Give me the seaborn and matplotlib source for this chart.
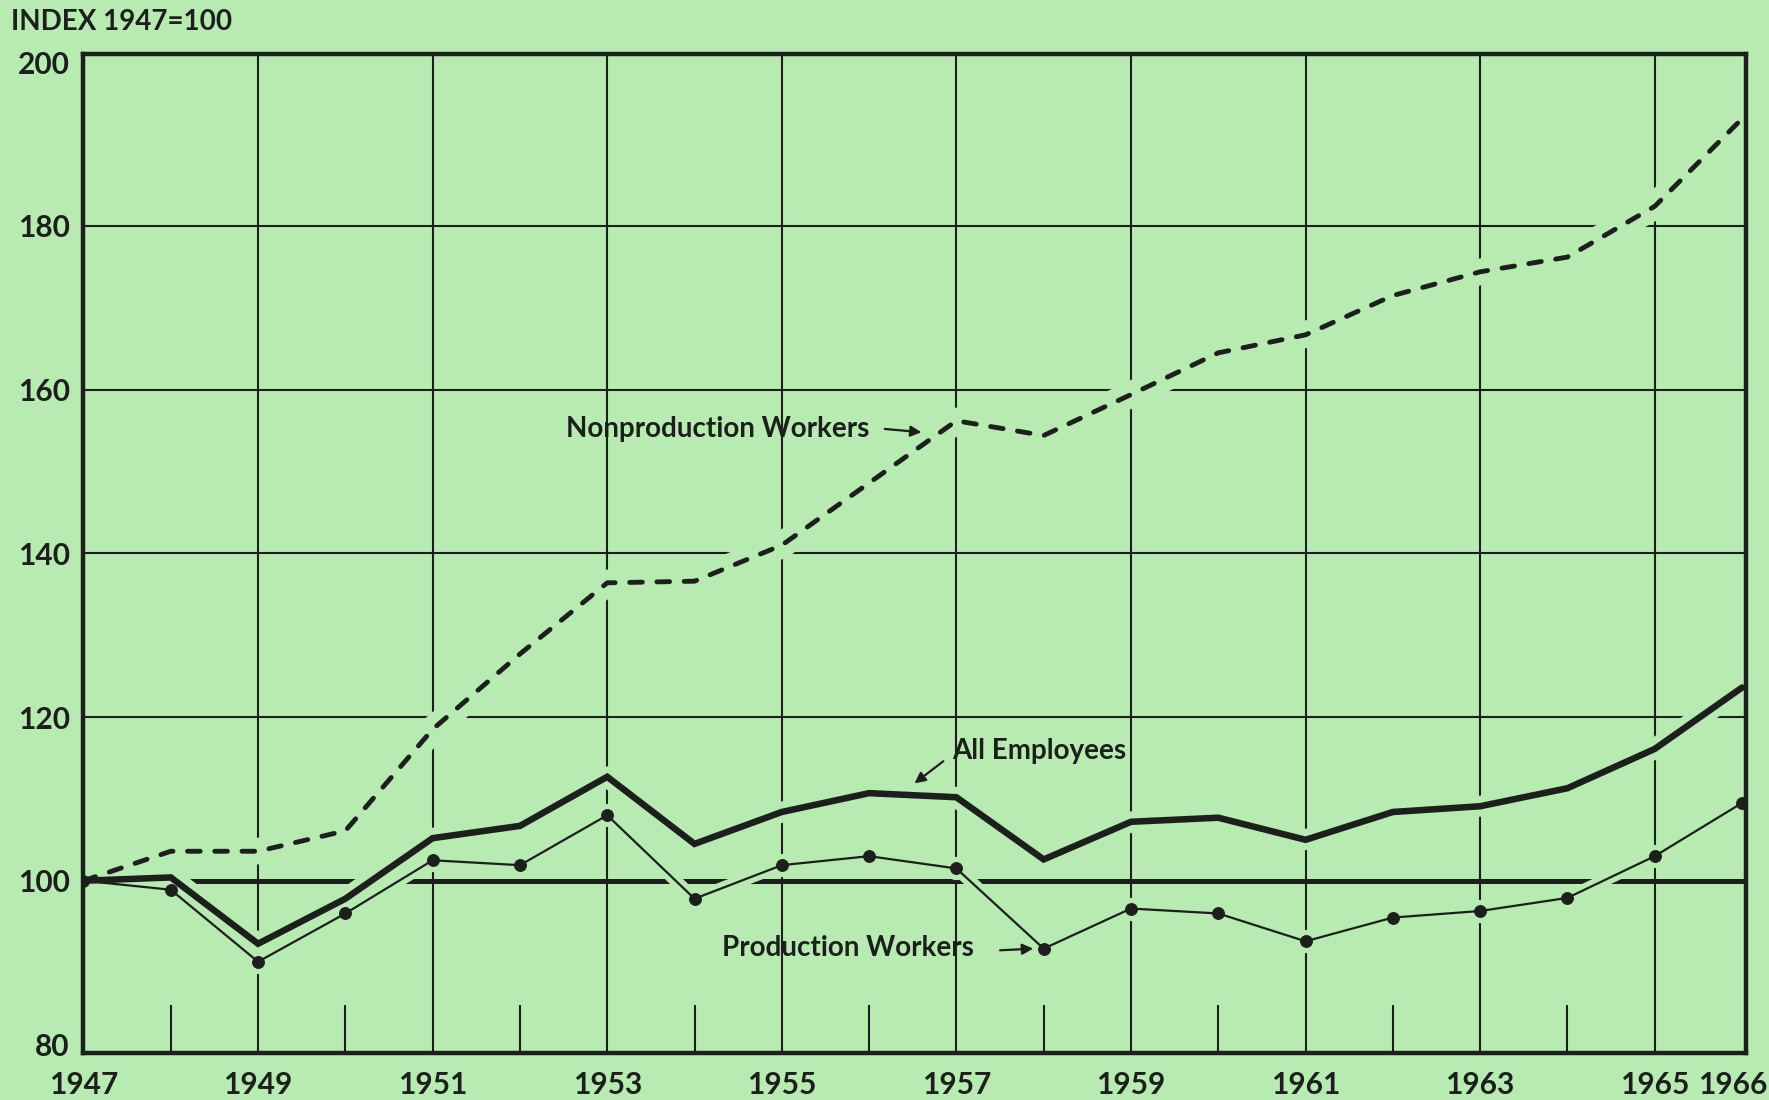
import matplotlib
matplotlib.use("Agg")
import matplotlib.pyplot as plt
import seaborn as sns
import pandas as pd
from matplotlib.transforms import ScaledTranslation

# ---------------- data ----------------
years = list(range(1947, 1967))
all_employees = [100.0, 100.4, 92.3, 97.8, 105.2, 106.7, 112.7, 104.5, 108.4, 110.7,
                 110.2, 102.6, 107.2, 107.7, 105.0, 108.4, 109.1, 111.3, 116.1, 123.6]
production_workers = [100.0, 98.9, 90.1, 96.0, 102.5, 101.9, 108.0, 97.8, 101.9, 103.0,
                      101.5, 91.7, 96.6, 96.0, 92.6, 95.5, 96.3, 97.9, 103.0, 109.5]
nonproduction_workers = [100.0, 103.6, 103.6, 106.1, 118.5, 127.7, 136.4, 136.6, 141.0, 148.6,
                         156.2, 154.4, 159.4, 164.5, 166.7, 171.5, 174.4, 176.2, 182.4, 193.1]

y_ticks = [80, 100, 120, 140, 160, 180, 200]
y_grid = [120, 140, 160, 180]
x_tick_years = [1947, 1949, 1951, 1953, 1955, 1957, 1959, 1961, 1963, 1965, 1966]
x_grid_years = [1949, 1951, 1953, 1955, 1957, 1959, 1961, 1963, 1965]
x_minor_years = [1948, 1950, 1952, 1954, 1956, 1958, 1960, 1962, 1964]

labels = {
    "non": "Nonproduction Workers",
    "all": "All Employees",
    "prod": "Production Workers",
}

BG = "#b7ebb2"
INK = "#1d1f1c"

sns.set_theme(style="white")
plt.rcParams["font.family"] = ["Lato", "DejaVu Sans"]

fig = plt.figure(figsize=(17.69, 11), dpi=100, facecolor=BG)
ax = fig.add_axes([0.0472, 0.0431, 0.9400, 0.9077])
ax.set_facecolor(BG)
ax.set_xlim(1947, 1966.05)
ax.set_ylim(79, 201)

# grid
for yr in x_grid_years:
    ax.axvline(yr, color=INK, lw=1.5, zorder=1)
for v in y_grid:
    ax.axhline(v, color=INK, lw=1.5, zorder=1)
ax.axhline(100, color=INK, lw=3.6, zorder=1)
ax.vlines(x_minor_years, 79, 84.8, color=INK, lw=1.5, zorder=1)

df = pd.DataFrame({"year": years, "all": all_employees,
                   "prod": production_workers, "non": nonproduction_workers})

# halos (gaps in the grid where the curves pass)
sns.lineplot(data=df, x="year", y="non", ax=ax, color=BG, linewidth=19, zorder=2,
             solid_capstyle="butt")
sns.lineplot(data=df, x="year", y="all", ax=ax, color=BG, linewidth=15, zorder=2,
             solid_capstyle="butt")
sns.lineplot(data=df, x="year", y="prod", ax=ax, color=BG, linewidth=9, zorder=2,
             marker="o", markersize=16, markeredgecolor=BG, markerfacecolor=BG)

# data lines
sns.lineplot(data=df, x="year", y="non", ax=ax, color=INK, linewidth=3.5, zorder=3,
             linestyle=(0, (2.6, 3.0)), dash_capstyle="round")
sns.lineplot(data=df, x="year", y="all", ax=ax, color=INK, linewidth=4.7, zorder=3,
             solid_joinstyle="miter")
sns.lineplot(data=df, x="year", y="prod", ax=ax, color=INK, linewidth=1.6, zorder=3,
             marker="o", markersize=8.5, markeredgecolor=INK, markerfacecolor=INK)

# spines
for s in ax.spines.values():
    s.set_visible(True)
    s.set_color(INK)
    s.set_linewidth(3.2)
    s.set_zorder(5)

ax.set_xticks(x_tick_years)
ax.set_xticklabels([str(y) for y in x_tick_years])
ax.set_yticks(y_ticks)
ax.set_yticklabels([str(v) for v in y_ticks])
ax.tick_params(axis="both", length=0, labelsize=21.5, colors=INK)
ax.tick_params(axis="x", pad=13)
ax.tick_params(axis="y", pad=10)
for lab in ax.get_xticklabels() + ax.get_yticklabels():
    lab.set_fontweight("bold")
last = ax.get_xticklabels()[-1]
last.set_transform(last.get_transform() + ScaledTranslation(-9 / 100, 0, fig.dpi_scale_trans))
ax.set_xlabel("")
ax.set_ylabel("")
ax.grid(False)

# annotations
tfont = dict(fontsize=20, color=INK, fontweight="bold", va="center", ha="left")
arrow = dict(arrowstyle="-|>", color=INK, lw=1.6, mutation_scale=16, shrinkA=0, shrinkB=0)
ax.text(1952.53, 155.2, labels["non"], **tfont, zorder=6)
ax.annotate("", xy=(1956.6, 154.8), xytext=(1956.18, 155.2), arrowprops=arrow, zorder=6)
ax.text(1956.95, 115.9, labels["all"], **tfont, zorder=6)
ax.annotate("", xy=(1956.52, 111.9), xytext=(1956.85, 114.6), arrowprops=arrow, zorder=6)
ax.text(1954.31, 91.8, labels["prod"], **tfont, zorder=6)
ax.annotate("", xy=(1957.88, 91.7), xytext=(1957.5, 91.5), arrowprops=arrow, zorder=6)

fig.text(11 / 1769, 1 - 22 / 1100, "INDEX 1947=100", fontsize=20, color=INK,
         fontweight="bold", ha="left", va="center")

fig.savefig("out.png", dpi=100, facecolor=BG)
